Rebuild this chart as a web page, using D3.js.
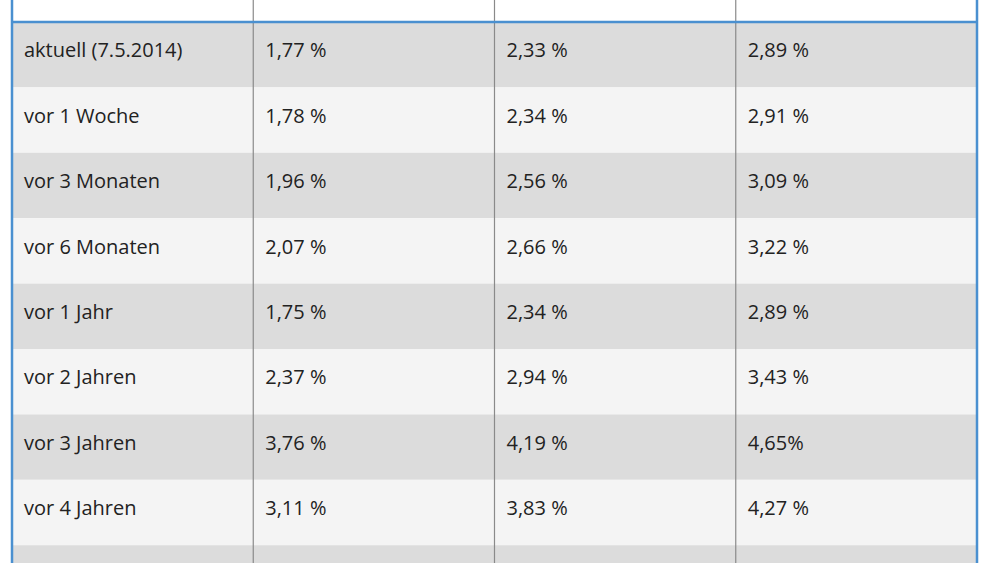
<!DOCTYPE html>
<html><head><meta charset="utf-8">
<script src="https://cdn.jsdelivr.net/npm/d3@7"></script>
<style>body{margin:0;background:#fff}</style></head>
<body><div id="chart"></div>
<script>
const rowLabels = ["aktuell (7.5.2014)", "vor 1 Woche", "vor 3 Monaten", "vor 6 Monaten",
  "vor 1 Jahr", "vor 2 Jahren", "vor 3 Jahren", "vor 4 Jahren", "vor 5 Jahren"];
const col1 = ["1,77 %", "1,78 %", "1,96 %", "2,07 %", "1,75 %", "2,37 %", "3,76 %", "3,11 %", "2,59 %"];
const col2 = ["2,33 %", "2,34 %", "2,56 %", "2,66 %", "2,34 %", "2,94 %", "4,19 %", "3,83 %", "4,10 %"];
const col3 = ["2,89 %", "2,91 %", "3,09 %", "3,22 %", "2,89 %", "3,43 %", "4,65%", "4,27 %", "4,49 %"];
const columns = ["label", "c1", "c2", "c3"];

const W = 1000, H = 563, TOP = 22, ROWH = 65.4;
const svg = d3.select("#chart").append("svg").attr("width", W).attr("height", H);

const x = d3.scaleBand().domain(columns).range([12, 977]).paddingInner(0);
const y = d3.scaleBand().domain(d3.range(rowLabels.length))
  .range([TOP, TOP + ROWH * rowLabels.length]);

const rows = rowLabels.map((l, i) => ({ i, cells: [l, col1[i], col2[i], col3[i]] }));

svg.selectAll("rect.row").data(rows).join("rect")
  .attr("x", 12).attr("width", 965)
  .attr("y", d => y(d.i)).attr("height", y.bandwidth())
  .attr("fill", d => d.i % 2 === 0 ? "#dcdcdc" : "#f4f4f4");

// vertical separators
svg.selectAll("line.sep").data(columns.slice(1)).join("line")
  .attr("x1", d => x(d)).attr("x2", d => x(d)).attr("y1", 0).attr("y2", H)
  .attr("stroke", "#8a8a8a").attr("stroke-width", 1.2);

// outer blue frame and header line
svg.append("line").attr("x1", 12).attr("x2", 12).attr("y1", 0).attr("y2", H)
  .attr("stroke", "#4a90d0").attr("stroke-width", 2.5);
svg.append("line").attr("x1", 977).attr("x2", 977).attr("y1", 0).attr("y2", H)
  .attr("stroke", "#4a90d0").attr("stroke-width", 2.5);
svg.append("line").attr("x1", 12).attr("x2", 977).attr("y1", TOP).attr("y2", TOP)
  .attr("stroke", "#4a90d0").attr("stroke-width", 2.5);

const g = svg.selectAll("g.r").data(rows).join("g");
g.selectAll("text").data(d => d.cells.map((c, j) => ({ c, j, i: d.i }))).join("text")
  .attr("x", d => x(columns[d.j]) + 12)
  .attr("y", d => y(d.i) + 30)
  .attr("dominant-baseline", "middle")
  .attr("font-family", "'Open Sans', sans-serif")
  .attr("font-size", 20)
  .attr("fill", "#222")
  .text(d => d.c);
</script></body></html>
